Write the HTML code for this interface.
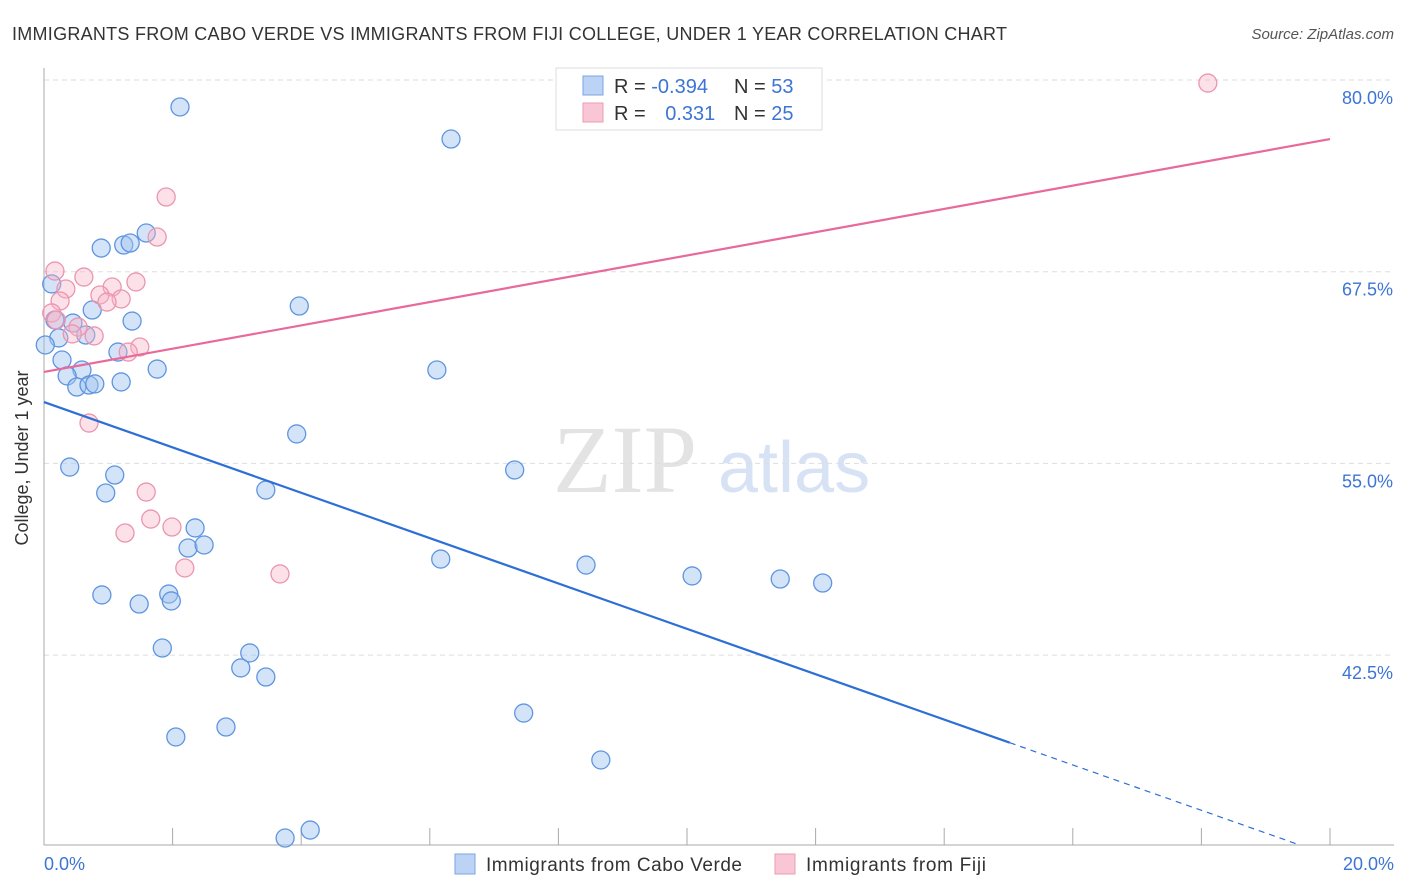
<!DOCTYPE html>
<html><head><meta charset="utf-8">
<style>
body{margin:0;background:#fff;font-family:"Liberation Sans",sans-serif;}
#wrap{position:relative;width:1406px;height:892px;overflow:hidden;}
</style></head>
<body>
<div id="wrap">
<svg id="svg" width="1406" height="892" xmlns="http://www.w3.org/2000/svg">
<text x="12" y="40" font-size="18" fill="#333" textLength="995" lengthAdjust="spacing">IMMIGRANTS FROM CABO VERDE VS IMMIGRANTS FROM FIJI COLLEGE, UNDER 1 YEAR CORRELATION CHART</text>
<text x="1394" y="39" font-size="15" fill="#555" font-style="italic" text-anchor="end">Source: ZipAtlas.com</text>
<text x="28" y="458" font-size="18" fill="#333" text-anchor="middle" transform="rotate(-90 28 458)">College, Under 1 year</text>
<g>
<text x="553" y="492" font-size="96" fill="#e3e3e3" font-family="Liberation Serif,serif">ZIP</text>
<text x="718" y="492" font-size="72" fill="#d7e3f5">atlas</text>
</g>
<g id="grid"></g><g id="axes"></g><g id="pts"></g><g id="lines"></g>
<g>
<rect x="556" y="68" width="266" height="62" fill="#fff" stroke="#ddd"/>
<rect x="583" y="76" width="20" height="19" fill="#bcd3f5" stroke="#7aa5e3"/>
<rect x="583" y="103" width="20" height="19" fill="#f9c6d5" stroke="#ee9ab5"/>
<text x="614" y="93" font-size="20" fill="#333">R = <tspan fill="#3c75d4">-0.394</tspan></text>
<text x="734" y="93" font-size="20" fill="#333">N = <tspan fill="#3c75d4">53</tspan></text>
<text x="614" y="120" font-size="20" fill="#333">R = <tspan fill="#3c75d4" dx="14">0.331</tspan></text>
<text x="734" y="120" font-size="20" fill="#333">N = <tspan fill="#3c75d4">25</tspan></text>
</g>
<g>
<rect x="455" y="854" width="20" height="20" fill="#bcd3f5" stroke="#7aa5e3"/>
<text x="486" y="871" font-size="19" fill="#333" textLength="256" lengthAdjust="spacing">Immigrants from Cabo Verde</text>
<rect x="775" y="854" width="20" height="20" fill="#f9c6d5" stroke="#ee9ab5"/>
<text x="806" y="871" font-size="19" fill="#333" textLength="180" lengthAdjust="spacing">Immigrants from Fiji</text>
</g>
</svg>
</div>
<script>
const yTicks=[80,67.5,55,42.5];
const yTickLabels=["80.0%","67.5%","55.0%","42.5%"];
const xTickLabels=["0.0%","20.0%"];
const blueX=[2.115,6.33,1.59,0.89,1.24,1.34,0.12,3.97,0.75,0.17,1.37,0.45,0.65,0.23,0.02,1.15,0.28,1.76,6.11,0.59,0.36,0.51,0.70,0.79,1.20,3.93,7.32,0.40,1.10,0.96,3.45,2.35,2.24,2.49,6.17,8.43,10.08,11.45,12.11,0.90,1.94,1.98,1.48,1.84,3.20,3.06,3.45,7.46,2.83,2.05,8.66,4.14,3.75];
const blueY=[79.35,77.26,71.13,70.15,70.35,70.48,67.81,66.37,66.11,65.46,65.39,65.26,64.48,64.29,63.83,63.37,62.85,62.26,62.20,62.20,61.81,61.09,61.22,61.29,61.42,58.03,55.68,55.87,55.35,54.18,54.37,51.90,50.59,50.79,49.87,49.48,48.77,48.57,48.31,47.53,47.59,47.14,46.94,44.07,43.75,42.77,42.18,39.83,38.92,38.27,36.77,32.20,31.68];
const pinkX=[18.10,1.90,1.76,0.17,0.62,1.43,0.34,1.06,0.87,0.25,1.20,0.98,0.12,0.19,0.53,0.44,0.78,1.49,1.31,0.70,1.59,1.66,1.99,1.26,2.19,3.67];
const pinkY=[80.91,73.48,70.87,68.65,68.26,67.94,67.48,67.61,67.09,66.70,66.83,66.63,65.92,65.46,65.00,64.55,64.42,63.70,63.37,58.74,54.24,52.48,51.96,51.57,49.29,48.90];
const blueTrend=[60.11,-1.479]; // intercept, slope
const blueSolidEnd=15.02, blueDashEnd=19.53;
const pinkTrend=[62.07,0.7595];
const NS="http://www.w3.org/2000/svg";
const X=v=>44+v/20*1286;
const Y=v=>97+(80-v)*15.336;
function mk(tag,at,parent){const e=document.createElementNS(NS,tag);for(const k in at)e.setAttribute(k,at[k]);document.getElementById(parent).appendChild(e);return e;}
yTicks.forEach((t,i)=>{
 const g=mk('line',{x1:44,x2:1394,y1:Y(t)-17,y2:Y(t)-17,stroke:'#ddd','stroke-dasharray':'5,4'},'grid');
 
 
 const l=mk('text',{x:1393,y:Y(t)+7,'font-size':18,fill:'#3c75d4','text-anchor':'end'},'axes');
 l.textContent=yTickLabels[i];
 
 
});
const ax=mk('line',{x1:44,x2:44,y1:68,y2:845,stroke:'#aaa'},'axes');


const bx=mk('line',{x1:44,x2:1394,y1:845,y2:845,stroke:'#aaa'},'axes');


for(let i=1;i<=10;i++){
 const t=mk('line',{x1:X(i*2),x2:X(i*2),y1:828,y2:845,stroke:'#aaa'},'axes');
 
 
}
[[0,'start',44],[20,'end',1394]].forEach((d,i)=>{
 const l=mk('text',{x:d[2],y:870,'font-size':18,fill:'#3c75d4','text-anchor':d[1]},'axes');
 l.textContent=xTickLabels[i];
 
 
});
blueX.forEach((x,i)=>{
 const c=mk('circle',{cx:X(x),cy:Y(blueY[i]),r:9,fill:'rgba(160,196,240,0.45)',stroke:'#5f95e0','stroke-width':1.3},'pts');
 
 
});
pinkX.forEach((x,i)=>{
 const c=mk('circle',{cx:X(x),cy:Y(pinkY[i]),r:9,fill:'rgba(247,180,200,0.4)',stroke:'#eb95b0','stroke-width':1.3},'pts');
 
 
});
const bf=x=>blueTrend[0]+blueTrend[1]*x, pf=x=>pinkTrend[0]+pinkTrend[1]*x;
const l1=mk('line',{x1:X(0),y1:Y(bf(0)),x2:X(blueSolidEnd),y2:Y(bf(blueSolidEnd)),stroke:'#2d6fd6','stroke-width':2.2},'lines');


const l2=mk('line',{x1:X(blueSolidEnd),y1:Y(bf(blueSolidEnd)),x2:X(blueDashEnd),y2:Y(bf(blueDashEnd)),stroke:'#2d6fd6','stroke-width':1.2,'stroke-dasharray':'6,5'},'lines');


const l3=mk('line',{x1:X(0),y1:Y(pf(0)),x2:X(20),y2:Y(pf(20)),stroke:'#e8699a','stroke-width':2.2},'lines');


</script>
</body></html>
